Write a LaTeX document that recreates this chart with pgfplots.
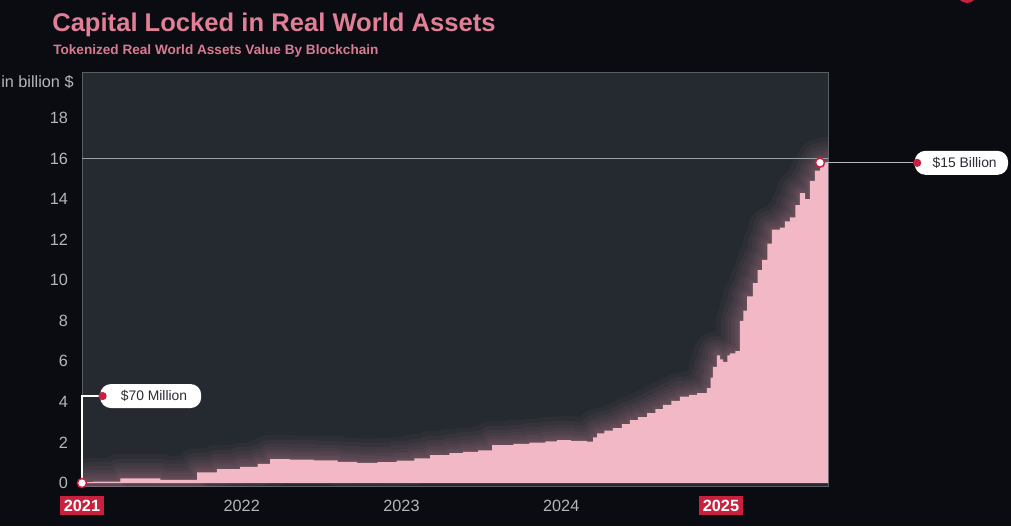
\documentclass[border=0pt]{standalone}
\usepackage{fontspec}
\setmainfont{Liberation Sans}
\usepackage{pgfplots}
\usepackage{pgfplotstable}
\pgfplotsset{compat=1.18}
\definecolor{bg}{HTML}{0A0C12}
\definecolor{plotbg}{HTML}{252A30}
\definecolor{rwapink}{HTML}{F2B8C6}
\definecolor{glow}{HTML}{E89AB0}
\definecolor{titlepink}{HTML}{E07F95}
\definecolor{subpink}{HTML}{D97A90}
\definecolor{crim}{HTML}{C8203F}
\definecolor{ticktext}{HTML}{B3B7BD}
\definecolor{frame}{HTML}{5A5F66}
\definecolor{refline}{HTML}{9A9EA5}
\definecolor{calltext}{HTML}{2B2D33}

\pgfplotstableread{
x y
2021.000 0.00
2021.010 0.04
2021.070 0.07
2021.240 0.23
2021.490 0.16
2021.720 0.53
2021.845 0.69
2021.990 0.80
2022.100 0.94
2022.177 1.18
2022.300 1.15
2022.450 1.12
2022.600 1.05
2022.720 1.00
2022.850 1.03
2022.970 1.10
2023.080 1.22
2023.180 1.38
2023.300 1.47
2023.385 1.54
2023.480 1.61
2023.567 1.87
2023.700 1.93
2023.800 1.99
2023.900 2.05
2023.973 2.12
2024.060 2.08
2024.161 2.04
2024.200 2.25
2024.224 2.45
2024.270 2.58
2024.324 2.71
2024.380 2.90
2024.430 3.10
2024.480 3.25
2024.537 3.45
2024.590 3.65
2024.637 3.85
2024.690 4.05
2024.743 4.26
2024.800 4.35
2024.850 4.44
2024.912 4.68
2024.935 5.20
2024.950 5.73
2024.975 6.30
2024.995 6.10
2025.013 5.98
2025.040 6.30
2025.056 6.40
2025.090 6.50
2025.119 8.00
2025.140 8.50
2025.163 9.20
2025.200 9.86
2025.230 10.50
2025.257 11.00
2025.290 11.80
2025.319 12.50
2025.369 12.60
2025.400 12.90
2025.432 13.10
2025.465 13.70
2025.494 14.30
2025.526 14.00
2025.557 14.90
2025.588 15.40
2025.620 15.80
2025.670 15.90
}\rwa

\newcommand{\yb}[1]{{\setlength{\fboxsep}{3pt}\colorbox{crim}{\textcolor{white}{\bfseries #1}}}}
\pgfplotsset{glowline/.style={const plot, draw=glow, line width=#1, opacity=0.05, line join=round, line cap=round}}

\begin{document}
\begin{tikzpicture}
\path[use as bounding box] (0,0) rectangle (758.25pt,394.5pt);
\fill[bg] (0,0) rectangle (758.25pt,394.5pt);
\fill[crim] (725.25pt,399.75pt) circle (7.5pt);

\node[anchor=base west, text=titlepink, font=\fontsize{19.2pt}{23pt}\selectfont\bfseries, inner sep=0pt] at (39pt,370.5pt) {Capital Locked in Real World Assets};
\node[anchor=base west, text=subpink, font=\fontsize{10.2pt}{12pt}\selectfont\bfseries, inner sep=0pt] at (39.75pt,353.25pt) {Tokenized Real World Assets Value By Blockchain};
\node[anchor=base west, text=ticktext, font=\fontsize{12.2pt}{14pt}\selectfont, inner sep=0pt] at (0.75pt,328.5pt) {in billion \$};

\begin{axis}[
  at={(61.5pt,29.625pt)}, anchor=south west,
  scale only axis, width=559.5pt, height=310.9pt,
  xmin=2021, xmax=2025.67, ymin=-0.17, ymax=20.27,
  axis background/.style={fill=plotbg},
  axis line style={frame, line width=0.6pt},
  ytick={0,2,...,18},
  xtick={2021,2022,2023,2024,2025},
  xticklabels={\yb{2021},2022,2023,2024,\yb{2025}},
  major tick length=0pt,
  tick label style={font=\fontsize{12.2pt}{14pt}\selectfont, text=ticktext},
  /pgf/number format/assume math mode=true,
  yticklabel style={xshift=-7pt},
  xticklabel style={anchor=base, yshift=-18.4pt},
  clip mode=individual,
]
\addplot[glowline=36pt] table {\rwa};
\addplot[glowline=29pt] table {\rwa};
\addplot[glowline=23pt] table {\rwa};
\addplot[glowline=18pt] table {\rwa};
\addplot[glowline=13.5pt] table {\rwa};
\addplot[glowline=9.5pt] table {\rwa};
\addplot[glowline=6pt] table {\rwa};
\addplot[glowline=3pt] table {\rwa};
\addplot[const plot, fill=rwapink, draw=none] table {\rwa} \closedcycle;

\draw[refline, line width=0.75pt] (axis cs:2021,16) -- (axis cs:2025.67,16);
\draw[white, line width=1.1pt] (axis cs:2021,0) |- (axis cs:2021.12,4.29);
\draw[refline!70!white, line width=1.1pt] (axis cs:2025.62,15.8) -- (axis cs:2026.22,15.8);

\node[fill=white, rounded corners=8pt, minimum width=75.75pt, minimum height=18pt, inner sep=0pt, text=calltext, font=\fontsize{10.4pt}{12pt}\selectfont] (c1) at (axis cs:2021.43,4.29) {\hspace{5pt}\$70 Million};
\fill[crim] ([xshift=2pt]c1.west) circle (3.1pt);
\node[fill=white, rounded corners=8pt, minimum width=70pt, minimum height=18pt, inner sep=0pt, text=calltext, font=\fontsize{10.4pt}{12pt}\selectfont] (c2) at (axis cs:2026.505,15.79) {\hspace{5pt}\$15 Billion};
\fill[crim] ([xshift=2pt]c2.west) circle (3.1pt);

\addplot[only marks, mark=*, mark size=3.4pt, mark options={fill=white, draw=crim, line width=1.1pt}] coordinates {(2021,0) (2025.62,15.8)};
\end{axis}
\end{tikzpicture}
\end{document}
